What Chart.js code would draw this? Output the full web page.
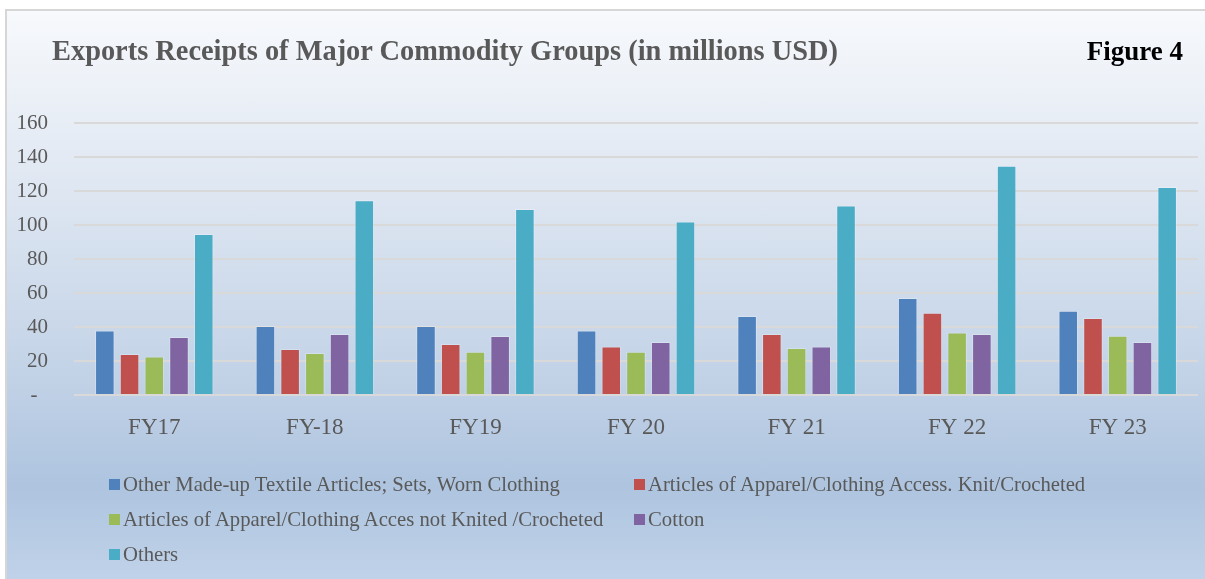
<!DOCTYPE html>
<html>
<head>
<meta charset="utf-8">
<script src="https://cdn.jsdelivr.net/npm/chart.js@4.4.1/dist/chart.umd.min.js"></script>
<style>
  html, body { margin: 0; padding: 0; background: #fff; }
  body { width: 1205px; height: 579px; position: relative; overflow: hidden; font-family: "Liberation Serif", serif; }
  #box {
    position: absolute; left: 5px; top: 9px; width: 1210px; height: 580px;
    border-left: 2px solid #d6d6d6; border-top: 2px solid #d6d6d6;
    background: linear-gradient(to bottom, #f7f9fc 0%, #dfe7f2 30%, #c3d3e7 62%, #aec4df 82%, #c2d4ea 100%);
  }
  #stockChart { position: absolute; left: 0; top: 0; }
  .title { position: absolute; top: 35px; font-weight: bold; white-space: nowrap; }
  #mainTitle { left: 52px; color: #595959; font-size: 28.4px; }
  #figTitle { right: 22px; color: #000; font-size: 27px; top: 36px; }
  #legend {
    position: absolute; left: 109px; top: 472px;
    display: grid; grid-template-columns: 525px auto; row-gap: 11px;
    font-size: 20.7px; color: #595959;
  }
  .item { display: flex; align-items: center; white-space: nowrap; height: 24px; }
  .swatch { width: 11px; height: 11px; margin-right: 3px; }
</style>
</head>
<body>
<div id="box"></div>
<canvas id="stockChart" width="1205" height="579"></canvas>
<div class="title" id="mainTitle">Exports Receipts of Major Commodity Groups (in millions USD)</div>
<div class="title" id="figTitle">Figure 4</div>
<div id="legend"></div>
<script>
// categories and tick labels
const years = ['FY17', 'FY-18', 'FY19', 'FY 20', 'FY 21', 'FY 22', 'FY 23'];
const yTicks = [0, 20, 40, 60, 80, 100, 120, 140, 160];

// series values (millions USD)
const madeUpTextiles = [38.0, 40.6, 40.6, 38.0, 46.5, 57.1, 49.6];
const apparelKnit = [24.1, 27.1, 30.0, 28.6, 35.9, 48.4, 45.3];
const apparelNotKnit = [22.7, 24.7, 25.5, 25.5, 27.7, 36.7, 34.9];
const cotton = [34.1, 35.9, 34.7, 31.2, 28.6, 35.9, 31.2];
const others = [94.7, 114.5, 109.4, 102.0, 111.4, 134.9, 122.4];

const seriesNames = [
  'Other Made-up Textile Articles; Sets, Worn Clothing',
  'Articles of Apparel/Clothing Access. Knit/Crocheted',
  'Articles of Apparel/Clothing Acces not Knited /Crocheted',
  'Cotton',
  'Others'
];
const seriesColors = ['#4f81bd', '#c0504d', '#9bbb59', '#8064a2', '#4bacc6'];
const seriesData = [madeUpTextiles, apparelKnit, apparelNotKnit, cotton, others];

const datasets = seriesData.map((d, i) => ({
  label: seriesNames[i],
  data: d,
  backgroundColor: seriesColors[i],
  borderColor: 'rgba(255,255,255,0.25)',
  borderWidth: 1,
  categoryPercentage: 0.77,
  barPercentage: 0.79
}));

const ctx = document.getElementById('stockChart').getContext('2d');
const chart = new Chart(ctx, {
  type: 'bar',
  data: { labels: years, datasets: datasets },
  options: {
    responsive: false,
    animation: false,
    layout: { padding: { top: 123, right: 7, left: 0, bottom: 0 } },
    plugins: {
      legend: { display: false },
      tooltip: { enabled: false }
    },
    scales: {
      x: {
        grid: { display: false },
        border: { display: false },
        ticks: {
          color: '#595959',
          font: { family: 'Liberation Serif', size: 23 },
          padding: 11,
          maxRotation: 0
        },
        afterFit: function(scale) { scale.height = 184; }
      },
      y: {
        min: 0,
        max: 160,
        afterBuildTicks: function(scale) { scale.ticks = yTicks.map(v => ({ value: v })); },
        grid: { color: '#d9d9d9', lineWidth: 2, drawTicks: false },
        border: { display: false },
        ticks: {
          color: '#595959',
          font: { family: 'Liberation Serif', size: 21 },
          padding: 26,
          callback: function(value) { return value === 0 ? '-  ' : value; }
        },
        afterFit: function(scale) { scale.width = 74; }
      }
    }
  }
});

// legend built from the chart's datasets
const legendEl = document.getElementById('legend');
chart.data.datasets.forEach(ds => {
  const item = document.createElement('div');
  item.className = 'item';
  const sw = document.createElement('span');
  sw.className = 'swatch';
  sw.style.background = ds.backgroundColor;
  const txt = document.createElement('span');
  txt.innerText = ds.label;
  item.appendChild(sw);
  item.appendChild(txt);
  legendEl.appendChild(item);
});
</script>
</body>
</html>
